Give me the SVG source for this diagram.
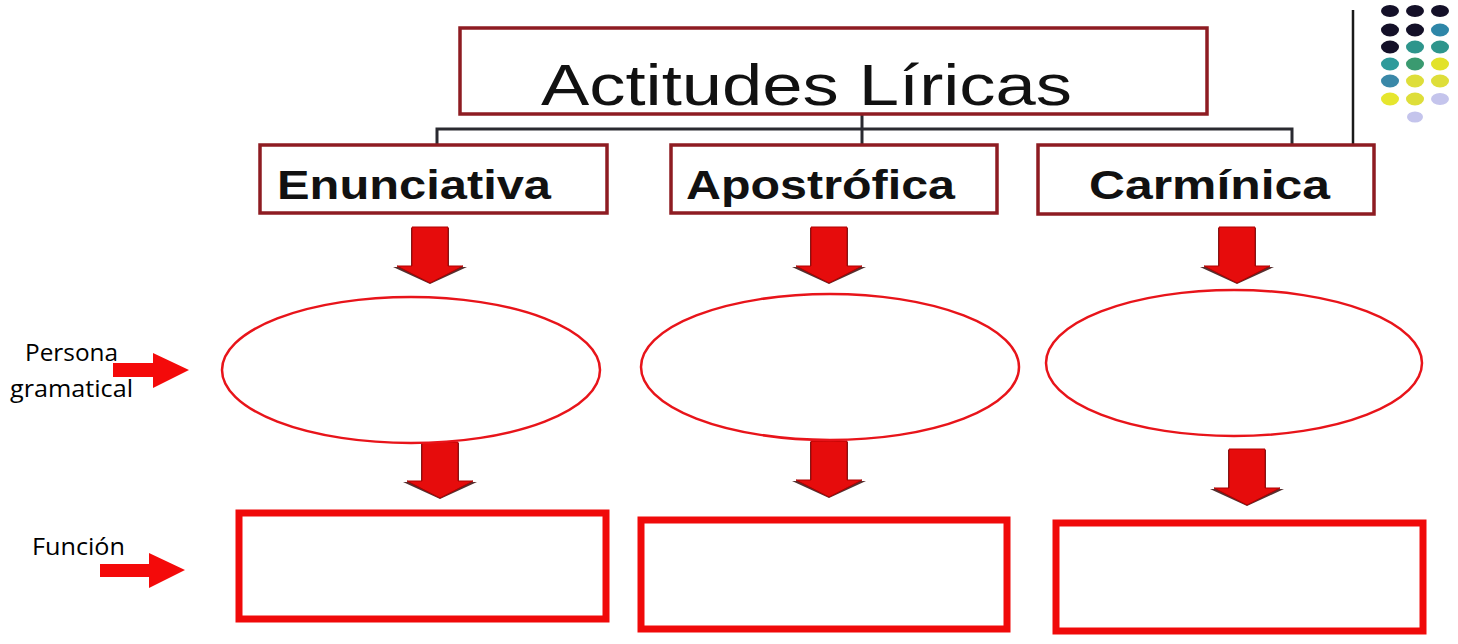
<svg xmlns="http://www.w3.org/2000/svg" width="1458" height="644" viewBox="0 0 1458 644">
<style>
.box{fill:#fff;stroke:#8e1c22;stroke-width:3.5}
.lbl{font-family:"Liberation Sans",Arial,sans-serif;font-weight:bold;font-size:40px;fill:#111}
.side{font-family:"Open Sans","Liberation Sans",sans-serif;font-size:24px;fill:#000}
.ell{fill:#fff;stroke:#e8141a;stroke-width:2.5}
.rbox{fill:#fff;stroke:#f00a0a;stroke-width:7}
.conn{stroke:#2a2a30;stroke-width:3;fill:none}
.dn{fill:#e60c0c;stroke:#b00000;stroke-width:1}
.sh{fill:#3a0a0a;opacity:0.85}
.ra{fill:#f40a0a}
</style>
<defs>
<g id="down">
<polygon class="sh" points="-19,1 19,1 19,40 37,40 0,57 -37,40 -19,40"/>
<polygon class="dn" points="-18,0 18,0 18,39 33,39 0,56 -33,39 -18,39"/>
</g>
</defs>
<rect width="1458" height="644" fill="#fff"/>

<g id="decor">
<line x1="1353" y1="10" x2="1353" y2="148" stroke="#1a1a1a" stroke-width="2.5"/>
<g>
<ellipse cx="1390" cy="11" rx="9" ry="6" fill="#141028"/>
<ellipse cx="1415" cy="11" rx="9" ry="6" fill="#141028"/>
<ellipse cx="1440" cy="11" rx="9" ry="6" fill="#141028"/>
<ellipse cx="1390" cy="30" rx="9" ry="6.5" fill="#141028"/>
<ellipse cx="1415" cy="30" rx="9" ry="6.5" fill="#141028"/>
<ellipse cx="1440" cy="30" rx="9" ry="6.5" fill="#2e86a8"/>
<ellipse cx="1390" cy="47" rx="9" ry="6.5" fill="#141028"/>
<ellipse cx="1415" cy="47" rx="9" ry="6.5" fill="#2e958c"/>
<ellipse cx="1440" cy="47" rx="9" ry="6.5" fill="#2e958c"/>
<ellipse cx="1390" cy="64" rx="9" ry="6.5" fill="#2e9a9a"/>
<ellipse cx="1415" cy="64" rx="9" ry="6.5" fill="#3a9a70"/>
<ellipse cx="1440" cy="64" rx="9" ry="6.5" fill="#e2e22a"/>
<ellipse cx="1390" cy="81" rx="9" ry="6.5" fill="#3a88a8"/>
<ellipse cx="1415" cy="81" rx="9" ry="6.5" fill="#dede3a"/>
<ellipse cx="1440" cy="81" rx="9" ry="6.5" fill="#dede3a"/>
<ellipse cx="1390" cy="99" rx="9" ry="6.5" fill="#e6e62e"/>
<ellipse cx="1415" cy="99" rx="9" ry="6.5" fill="#dede3a"/>
<ellipse cx="1440" cy="99" rx="9" ry="6" fill="#c4c4ec"/>
<ellipse cx="1415" cy="117" rx="8" ry="5.5" fill="#c4c4ec"/>
</g>
</g>

<g id="connectors">
<polyline class="conn" points="437,145 437,129 1292,129 1292,145"/>
<line class="conn" x1="862" y1="114" x2="862" y2="145"/>
</g>

<g id="title">
<rect class="box" x="460" y="28" width="747" height="86"/>
<text x="541" y="105" font-family="Liberation Sans,Arial,sans-serif" font-size="58" fill="#111" textLength="531" lengthAdjust="spacingAndGlyphs">Actitudes Líricas</text>
</g>

<g id="enunciativa">
<rect class="box" x="260" y="145" width="347" height="68"/>
<text class="lbl" x="277" y="199" textLength="274" lengthAdjust="spacingAndGlyphs">Enunciativa</text>
</g>
<g id="apostrofica">
<rect class="box" x="671" y="145" width="326" height="68"/>
<text class="lbl" x="686" y="199" textLength="269" lengthAdjust="spacingAndGlyphs">Apostrófica</text>
</g>
<g id="carminica">
<rect class="box" x="1038" y="145" width="336" height="69"/>
<text class="lbl" x="1089" y="199" textLength="241" lengthAdjust="spacingAndGlyphs">Carmínica</text>
</g>

<g id="arrows-down">
<use href="#down" x="430" y="227"/>
<use href="#down" x="829" y="227"/>
<use href="#down" x="1237" y="227"/>
<use href="#down" x="440" y="442"/>
<use href="#down" x="829" y="441"/>
<use href="#down" x="1247" y="449"/>
</g>

<g id="ellipse1"><ellipse class="ell" cx="411" cy="370" rx="189" ry="73"/></g>
<g id="ellipse2"><ellipse class="ell" cx="830" cy="367" rx="189" ry="73"/></g>
<g id="ellipse3"><ellipse class="ell" cx="1234" cy="363" rx="188" ry="73"/></g>

<g id="rect1"><rect class="rbox" x="239" y="513" width="367" height="106"/></g>
<g id="rect2"><rect class="rbox" x="641" y="520" width="366" height="109"/></g>
<g id="rect3"><rect class="rbox" x="1056" y="523" width="367" height="108"/></g>

<g id="persona">
<text class="side" x="25" y="361" textLength="93" lengthAdjust="spacingAndGlyphs">Persona</text>
<text class="side" x="10" y="397" textLength="123" lengthAdjust="spacingAndGlyphs">gramatical</text>
<polygon class="ra" points="113,363 153,363 153,353 189,370 153,388 153,377 113,377"/>
</g>
<g id="funcion">
<text class="side" x="32" y="555" textLength="93" lengthAdjust="spacingAndGlyphs">Función</text>
<polygon class="ra" points="100,564 149,564 149,553 185,570 149,588 149,577 100,577"/>
</g>
</svg>
